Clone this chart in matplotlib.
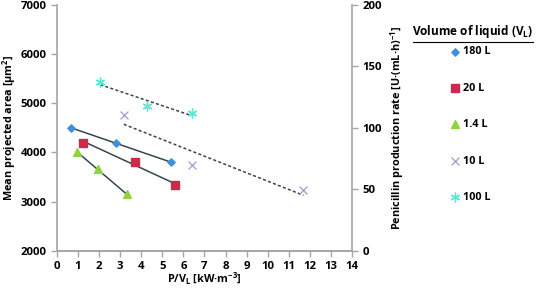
import numpy as np
import matplotlib.pyplot as plt
from matplotlib.lines import Line2D

plt.rcParams['font.family'] = ['Open Sans', 'DejaVu Sans']
plt.rcParams['font.weight'] = 'bold'
plt.rcParams['axes.labelweight'] = 'bold'

# datos leidos de la figura
# eje izquierdo: area proyectada media
x_180 = [0.65, 2.78, 5.41]
y_180 = [4500, 4190, 3800]
x_20 = [1.24, 3.69, 5.58]
y_20 = [4200, 3800, 3335]
x_14 = [0.96, 1.95, 3.30]
y_14 = [4000, 3655, 3150]
# eje derecho: tasa de produccion de penicilina
x_10 = [3.17, 6.39, 11.7]
y_10 = [110, 69.5, 49.5]
x_100 = [2.05, 4.27, 6.39]
y_100 = [137, 118, 112]

gris = '#a6a6a6'
col_180 = '#3f8fe0'
col_20 = '#cc2a4a'
col_14 = '#8fd43c'
col_10 = '#a898d0'
col_100 = '#5ce6d4'
linea = '#34474c'

fig = plt.figure(figsize=(5.43, 2.9), dpi=100)
ax = fig.add_axes([0.105, 0.135, 0.543, 0.849])
ax2 = ax.twinx()

def tendencia(eje, xs, ys, estilo):
    m, b = np.polyfit(xs, ys, 1)
    xx = np.array([min(xs), max(xs)])
    eje.plot(xx, m*xx + b, color=linea, lw=1.1, ls=estilo, zorder=2)

tendencia(ax, x_180, y_180, '-')
tendencia(ax, x_20, y_20, '-')
tendencia(ax, x_14, y_14, '-')
tendencia(ax2, x_10, y_10, (0, (2, 1.5)))
tendencia(ax2, x_100, y_100, (0, (2, 1.5)))

h1 = ax.scatter(x_180, y_180, marker='D', s=14, color=col_180, zorder=3)
h2 = ax.scatter(x_20, y_20, marker='s', s=30, color=col_20, zorder=3)
h3 = ax.scatter(x_14, y_14, marker='^', s=32, color=col_14, zorder=3)
h4 = ax2.scatter(x_10, y_10, marker='x', s=32, color=col_10, lw=0.9, zorder=3)
h5 = ax2.scatter(x_100, y_100, marker=(6, 2, 0), s=40, color=col_100, lw=1.0, zorder=3)

ax.set_xlim(0, 14)
ax.set_ylim(2000, 7000)
ax2.set_ylim(0, 200)
ax.set_xticks(range(0, 15))
ax.set_yticks(range(2000, 7001, 1000))
ax2.set_yticks(range(0, 201, 50))

for eje in (ax, ax2):
    eje.spines['top'].set_visible(False)
    for s in ('left', 'right', 'bottom'):
        eje.spines[s].set_color(gris)
        eje.spines[s].set_linewidth(1.2)
    eje.tick_params(colors=gris, labelcolor='black', labelsize=8.2, length=4, width=1)
    for t in eje.get_xticklabels() + eje.get_yticklabels():
        t.set_fontweight('bold')
ax.spines['right'].set_visible(False)
ax2.spines['left'].set_visible(False)

ax.set_xlabel('P/V$_\\mathregular{L}$ [kW·m$^{\\mathregular{-3}}$]', fontsize=7.8, labelpad=-1)
ax.set_ylabel('Mean projected area [µm$^{\\mathregular{2}}$]', fontsize=7.8, labelpad=2)
ax2.set_ylabel('Penicillin production rate [U·(mL·h)$^{\\mathregular{-1}}$]', fontsize=7.8, labelpad=5)

fig.text(0.871, 0.862, 'Volume of liquid (V$_\\mathregular{L}$)', fontsize=8.5,
         ha='center', va='bottom', fontweight='bold')
fig.add_artist(Line2D([0.761, 0.982], [0.855, 0.855], color='black', lw=0.8))

fig.legend([h1, h2, h3, h4, h5], ['180 L', '20 L', '1.4 L', '10 L', '100 L'],
           loc='upper left', bbox_to_anchor=(0.833, 0.84), frameon=False,
           prop={'size': 7.8, 'weight': 'bold'}, handlelength=0.5,
           handletextpad=0.45, labelspacing=2.35, borderaxespad=0, borderpad=0)

fig.savefig('out.png', dpi=100)
